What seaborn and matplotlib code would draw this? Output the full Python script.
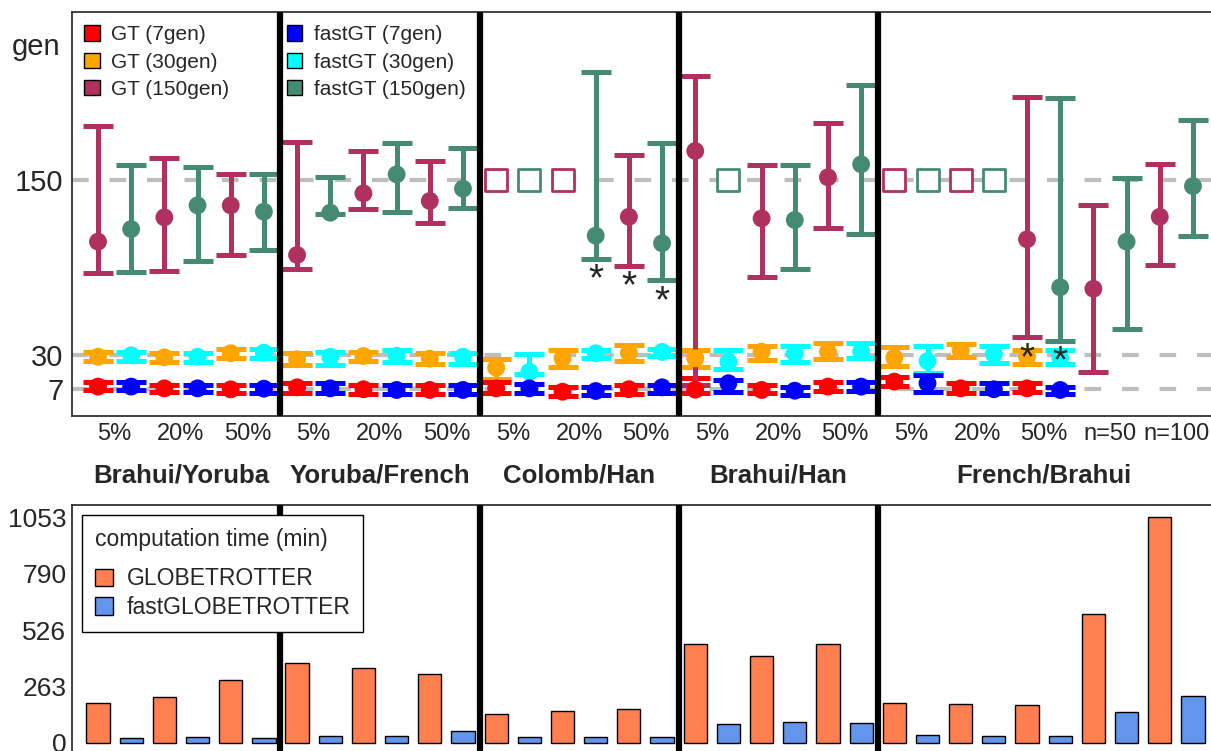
import numpy as np
import pandas as pd
import seaborn as sns
import matplotlib.pyplot as plt
from matplotlib.patches import Patch
from matplotlib import transforms

sns.set_style("white")
plt.rcParams['font.family'] = ['Liberation Sans', 'DejaVu Sans']

# ---- data ----
groups = ["Brahui/Yoruba", "Yoruba/French", "Colomb/Han", "Brahui/Han", "French/Brahui"]
group_size = [6, 6, 6, 6, 10]
pair_labels = ["5%", "20%", "50%"] * 5 + ["n=50", "n=100"]
methods = ["GT", "fastGT"] * 17

nan = np.nan
# 150 gen simulations (estimate, lower, upper); nan = no admixture date found
est150 = [107.7, 116.3, 124.3, 132.5, 132.5, 128.2,
          98.6, 127.5, 140.7, 153.7, 135.5, 143.9,
          nan, nan, nan, 111.8, 124.7, 106.6,
          169.7, nan, 123.6, 122.5, 151.7, 160.6,
          nan, nan, nan, nan, 109.3, 76.5, 75.5, 107.7, 124.7, 145.7]
lo150 = [86.6, 86.9, 87.4, 94.5, 98.6, 102.0,
         88.8, 126.4, 130.0, 127.7, 120.2, 130.7,
         nan, nan, nan, 95.6, 91.0, 81.5,
         9.7, nan, 83.3, 88.8, 116.8, 112.9,
         nan, nan, nan, nan, 42.3, 39.8, 18.4, 47.8, 91.5, 111.5]
hi150 = [186.7, 159.9, 164.6, 158.7, 153.7, 153.7,
         175.6, 152.1, 169.7, 175.1, 162.8, 171.5,
         nan, nan, nan, 223.4, 166.7, 174.9,
         220.7, nan, 159.9, 159.9, 188.6, 214.6,
         nan, nan, nan, nan, 206.4, 205.7, 132.5, 151.4, 160.6, 190.6]

# 30 gen simulations
est30 = [29.0, 30.0, 28.6, 29.0, 31.4, 31.8,
         27.3, 29.0, 29.5, 29.7, 27.7, 29.0,
         21.5, 18.8, 28.0, 31.4, 31.8, 32.3,
         28.0, 25.6, 32.5, 31.4, 32.5, 32.5,
         28.4, 26.1, 33.2, 30.9, 29.0, 28.0, nan, nan, nan, nan]
lo30 = [26.3, 26.3, 25.2, 25.2, 28.4, 27.9,
        23.6, 23.6, 25.9, 25.6, 24.3, 24.3,
        14.0, 17.0, 21.8, 28.0, 26.3, 29.7,
        22.2, 20.6, 26.8, 25.4, 27.5, 27.9,
        22.7, 18.1, 28.6, 24.5, 24.0, 24.0, nan, nan, nan, nan]
hi30 = [32.3, 32.3, 31.8, 31.8, 34.3, 34.3,
        31.8, 32.3, 32.3, 33.6, 31.8, 31.8,
        27.5, 30.7, 33.8, 33.6, 36.8, 34.5,
        33.6, 33.6, 36.6, 36.6, 38.2, 38.2,
        35.5, 36.4, 37.7, 36.4, 33.6, 33.8, nan, nan, nan, nan]

# 7 gen simulations
est7 = [8.6, 8.6, 7.4, 7.4, 6.7, 7.2,
        8.1, 7.4, 6.8, 6.3, 6.3, 6.3,
        7.4, 7.4, 5.1, 5.6, 6.8, 8.1,
        6.5, 10.9, 6.3, 5.8, 8.6, 8.6,
        12.0, 10.9, 7.4, 6.8, 7.4, 6.3, nan, nan, nan, nan]
lo7 = [6.1, 6.1, 4.7, 4.7, 3.9, 3.9,
       4.4, 4.4, 3.8, 3.8, 3.8, 3.8,
       4.4, 4.4, 2.2, 3.0, 3.6, 4.4,
       4.0, 5.1, 3.9, 3.1, 5.6, 5.6,
       9.0, 5.1, 4.0, 4.0, 4.8, 3.5, nan, nan, nan, nan]
hi7 = [11.5, 11.5, 9.5, 9.5, 9.5, 9.5,
       10.9, 10.9, 9.7, 9.7, 9.7, 9.5,
       12.0, 10.2, 8.1, 8.0, 9.8, 9.8,
       14.3, 13.1, 9.7, 8.4, 11.5, 11.5,
       15.4, 16.5, 10.9, 10.9, 10.9, 8.5, nan, nan, nan, nan]

# computation time (min)
time_gt = [186, 213, 293, 371, 348, 320, 134, 149, 158,
           460, 407, 461, 185, 182, 177, 602, 1053]
time_fast = [23, 28, 25, 33, 31, 55, 29, 29, 29,
             89, 96, 93, 36, 33, 31, 143, 220]

# significance stars (position, gen value)
star_pos = [15, 16, 17, 28, 29]
star_gen = [85.6, 80.3, 70.5, 31.6, 29.0]

colors = {("GT", 7): "#FF0000", ("GT", 30): "#FFA500", ("GT", 150): "#B03060",
          ("fastGT", 7): "#0000FF", ("fastGT", 30): "#00FFFF", ("fastGT", 150): "#458B74"}
bar_colors = {"GT": "#FF7F50", "fastGT": "#6495ED"}

# ---- long table ----
pos = np.arange(len(methods))
rows = []
for gen, e, l, h in [(7, est7, lo7, hi7), (30, est30, lo30, hi30), (150, est150, lo150, hi150)]:
    for i in pos:
        rows.append(dict(pos=i, method=methods[i], gen=gen, est=e[i], lo=l[i], hi=h[i]))
df = pd.DataFrame(rows)

W, H = 1211, 751
fig = plt.figure(figsize=(W / 100, H / 100), dpi=100)

px = 33.18          # pixels per position
x0 = 98             # pixel x of position 0
left_px, right_px = 72, 1222
xlim = ((left_px - x0) / px, (right_px - x0) / px)

# ---- top panel ----
ax1 = fig.add_axes([left_px / W, 1 - 416 / H, (right_px - left_px) / W, (416 - 12) / H])
for g in [7, 30, 150]:
    ax1.axhline(g, color="#BEBEBE", lw=3, dashes=(4, 5), zorder=0)

for gen in [30, 7, 150]:
    for m in ["GT", "fastGT"]:
        c = colors[(m, gen)]
        sub = df[(df.gen == gen) & (df.method == m)]
        ok = sub.dropna(subset=["est"])
        ax1.errorbar(ok.pos, ok.est, yerr=[ok.est - ok.lo, ok.hi - ok.est], fmt="none",
                     ecolor=c, elinewidth=3.6, capsize=11, capthick=3.6, zorder=2)
        sns.scatterplot(data=ok, x="pos", y="est", color=c, s=165, edgecolor="none",
                        legend=False, ax=ax1, zorder=3)
        if gen == 150:
            miss = sub[sub.est.isna() & (sub.pos < 30)]
            ax1.scatter(miss.pos, np.full(len(miss), 150), marker="s", s=230,
                        facecolor="white", edgecolor=c, linewidths=2, zorder=3)

star_tr = transforms.offset_copy(ax1.transData, fig=fig, y=-16, units="dots")
for p, g in zip(star_pos, star_gen):
    ax1.text(p, g, "*", ha="center", va="baseline", fontsize=28, transform=star_tr, zorder=6)

bounds = np.cumsum(group_size)[:-1] - 0.5
for b in bounds:
    ax1.axvline(b, color="black", lw=4.5, zorder=5)

ax1.set_xlim(*xlim)
ax1.set_ylim(-11.5, 264.7)
ax1.set_yticks([7, 30, 150])
ax1.set_yticklabels(["7", "30", "150"], fontsize=21)
mids = np.arange(0, len(methods), 2) + 0.5
ax1.set_xticks(mids)
ax1.set_xticklabels(pair_labels, fontsize=17)
ax1.tick_params(length=0, pad=5)
ax1.tick_params(axis="y", pad=6)
ax1.set_xlabel("")
ax1.set_ylabel("")
for s in ax1.spines.values():
    s.set_color("#333333")
    s.set_linewidth(1.3)

fig.text(12 / W, 1 - 47 / H, "gen", fontsize=21, va="center", ha="left")

trans = transforms.blended_transform_factory(ax1.transData, fig.transFigure)
start = 0
for name, n in zip(groups, group_size):
    ax1.text(start + (n - 1) / 2, 1 - 476 / H, name, transform=trans, ha="center",
             va="center", fontsize=18.6, fontweight="bold")
    start += n

handles = [Patch(facecolor=colors[(m, g)], edgecolor="black", linewidth=1)
           for m in ["GT", "fastGT"] for g in [7, 30, 150]]
labels = [f"{m} ({g}gen)" for m in ["GT", "fastGT"] for g in [7, 30, 150]]
ax1.legend(handles, labels, ncol=2, loc="upper left", bbox_to_anchor=(76 / W, 1 - 17 / H),
           bbox_transform=fig.transFigure, frameon=False, fontsize=15,
           handlelength=0.75, handleheight=0.75, handletextpad=0.55,
           columnspacing=2.75, labelspacing=0.4, borderaxespad=0)

# ---- bottom panel ----
times = []
for a, b in zip(time_gt, time_fast):
    times += [a, b]
tdf = pd.DataFrame(dict(pos=pos, time=times, method=methods))

ax2 = fig.add_axes([left_px / W, 1 - 765 / H, (right_px - left_px) / W, (765 - 505) / H])
sns.barplot(data=tdf, x="pos", y="time", hue="method", palette=bar_colors,
            native_scale=True, width=0.7, dodge=False, errorbar=None, saturation=1,
            edgecolor="black", linewidth=1, legend=False, ax=ax2)
for b in bounds:
    ax2.axvline(b, color="black", lw=4.5, zorder=5)
ax2.set_xlim(*xlim)
ax2.set_ylim(-(765 - 743) / 0.2146, (743 - 505) / 0.2146)
ax2.set_yticks([0, 263, 526, 790, 1053])
ax2.set_yticklabels(["0", "263", "526", "790", "1053"], fontsize=19)
ax2.set_xticks([])
ax2.tick_params(length=0, pad=4)
ax2.set_xlabel("")
ax2.set_ylabel("")
for s in ax2.spines.values():
    s.set_color("#333333")
    s.set_linewidth(1.3)

leg = ax2.legend([Patch(facecolor=bar_colors["GT"], edgecolor="black"),
                  Patch(facecolor=bar_colors["fastGT"], edgecolor="black")],
                 ["GLOBETROTTER", "fastGLOBETROTTER"], title="computation time (min)",
                 loc="upper left", bbox_to_anchor=(82 / W, 1 - 515 / H),
                 bbox_transform=fig.transFigure, fontsize=16.5, title_fontsize=16.5,
                 fancybox=False, framealpha=1, edgecolor="black", borderaxespad=0,
                 handlelength=0.8, handleheight=0.8, handletextpad=0.6,
                 borderpad=0.55, labelspacing=0.25)
leg.get_frame().set_linewidth(1)
leg._legend_box.align = "left"
leg._legend_box.sep = 12

fig.savefig("out.png", dpi=100)
